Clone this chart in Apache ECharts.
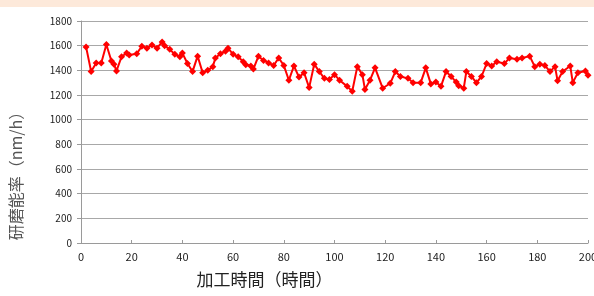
<!DOCTYPE html>
<html>
<head>
<meta charset="utf-8">
<script src="https://cdn.jsdelivr.net/npm/echarts@6/dist/echarts.min.js"></script>
<style>
  html, body { margin: 0; padding: 0; background: #fff; }
  #chart { width: 594px; height: 296px; }
</style>
</head>
<body>
<div id="chart"></div>
<script>
// 加工時間（時間）
var hours = [2, 4, 6, 8, 10, 12, 13, 14, 16, 18, 19, 22, 24, 26, 28, 30, 32, 33, 35, 37,
  39, 40, 42, 44, 46, 48, 50, 52, 53, 55, 57, 58, 60, 62, 64, 65, 67, 68, 70, 72,
  74, 76, 78, 80, 82, 84, 86, 88, 90, 92, 94, 96, 98, 100, 102, 105, 107, 109, 111, 112,
  114, 116, 119, 122, 124, 126, 129, 131, 134, 136, 138, 140, 142, 144, 146, 148, 149, 151, 152, 154,
  156, 158, 160, 162, 164, 167, 169, 172, 174, 177, 179, 181, 183, 185, 187, 188, 190, 193, 194, 196,
  199, 200];
// 研磨能率（nm/h）
var rates = [1590, 1390, 1460, 1460, 1610, 1475, 1450, 1395, 1510, 1540, 1525, 1535, 1595, 1580, 1605, 1580, 1630, 1600, 1570, 1530,
  1510, 1540, 1455, 1390, 1515, 1380, 1400, 1430, 1500, 1535, 1555, 1580, 1530, 1510, 1470, 1445, 1435, 1410, 1515, 1480,
  1460, 1440, 1500, 1440, 1320, 1435, 1345, 1380, 1260, 1450, 1390, 1335, 1325, 1365, 1320, 1270, 1230, 1430, 1365, 1245,
  1320, 1420, 1255, 1295, 1390, 1350, 1335, 1300, 1300, 1420, 1290, 1305, 1270, 1390, 1350, 1305, 1275, 1255, 1390, 1350,
  1300, 1350, 1455, 1435, 1470, 1455, 1500, 1490, 1500, 1515, 1430, 1450, 1440, 1390, 1430, 1315, 1390, 1435, 1300, 1380,
  1395, 1360];
var xTicks = [0, 200, 20];   // min, max, interval
var yTicks = [0, 1800, 200];

var points = [];
for (var i = 0; i < hours.length; i++) {
    points.push([hours[i], rates[i]]);
}

var myChart = echarts.init(document.getElementById('chart'));
var font = '"Noto Sans CJK JP", sans-serif';
var option = {
    animation : false,
    graphic : [{
        type : 'rect',
        left : 0, top : 0,
        shape : { width : 594, height : 7 },
        style : { fill : '#fde9da' }
    }],
    grid : { left : 81, right : 6, top : 21, bottom : 53, outerBoundsMode : 'none', containLabel : false },
    xAxis : {
        type : 'value',
        min : xTicks[0], max : xTicks[1], interval : xTicks[2],
        name : '加工時間（時間）',
        nameLocation : 'middle',
        nameGap : 28,
        nameTextStyle : { fontFamily : font, fontSize : 17, color : '#222', padding : [0, 140, 0, 0] },
        axisLine : { lineStyle : { color : '#9a9a9a', width : 1 } },
        axisTick : { show : true, inside : true, length : 3, lineStyle : { color : '#9a9a9a' } },
        axisLabel : { fontFamily : font, fontSize : 11, color : '#222', margin : 8 },
        splitLine : { show : false }
    },
    yAxis : {
        type : 'value',
        min : yTicks[0], max : yTicks[1], interval : yTicks[2],
        name : '研磨能率（nm/h）',
        nameLocation : 'middle',
        nameGap : 57,
        nameRotate : 90,
        nameTextStyle : { fontFamily : font, fontSize : 16, color : '#555', padding : [0, 80, 0, 0] },
        axisLine : { show : true, lineStyle : { color : '#9a9a9a', width : 1 } },
        axisTick : { show : true, length : 4, lineStyle : { color : '#9a9a9a' } },
        axisLabel : {
            fontFamily : font, fontSize : 10, color : '#222', margin : 9,
            formatter : function (v) { return String(v); }
        },
        splitLine : { lineStyle : { color : '#a8a8a8', width : 1 } }
    },
    series : [{
        type : 'line',
        data : points,
        symbol : 'diamond',
        symbolSize : 7,
        itemStyle : { color : '#ff0000' },
        lineStyle : { color : '#ff0000', width : 2 }
    }]
};
myChart.setOption(option, true);
</script>
</body>
</html>
